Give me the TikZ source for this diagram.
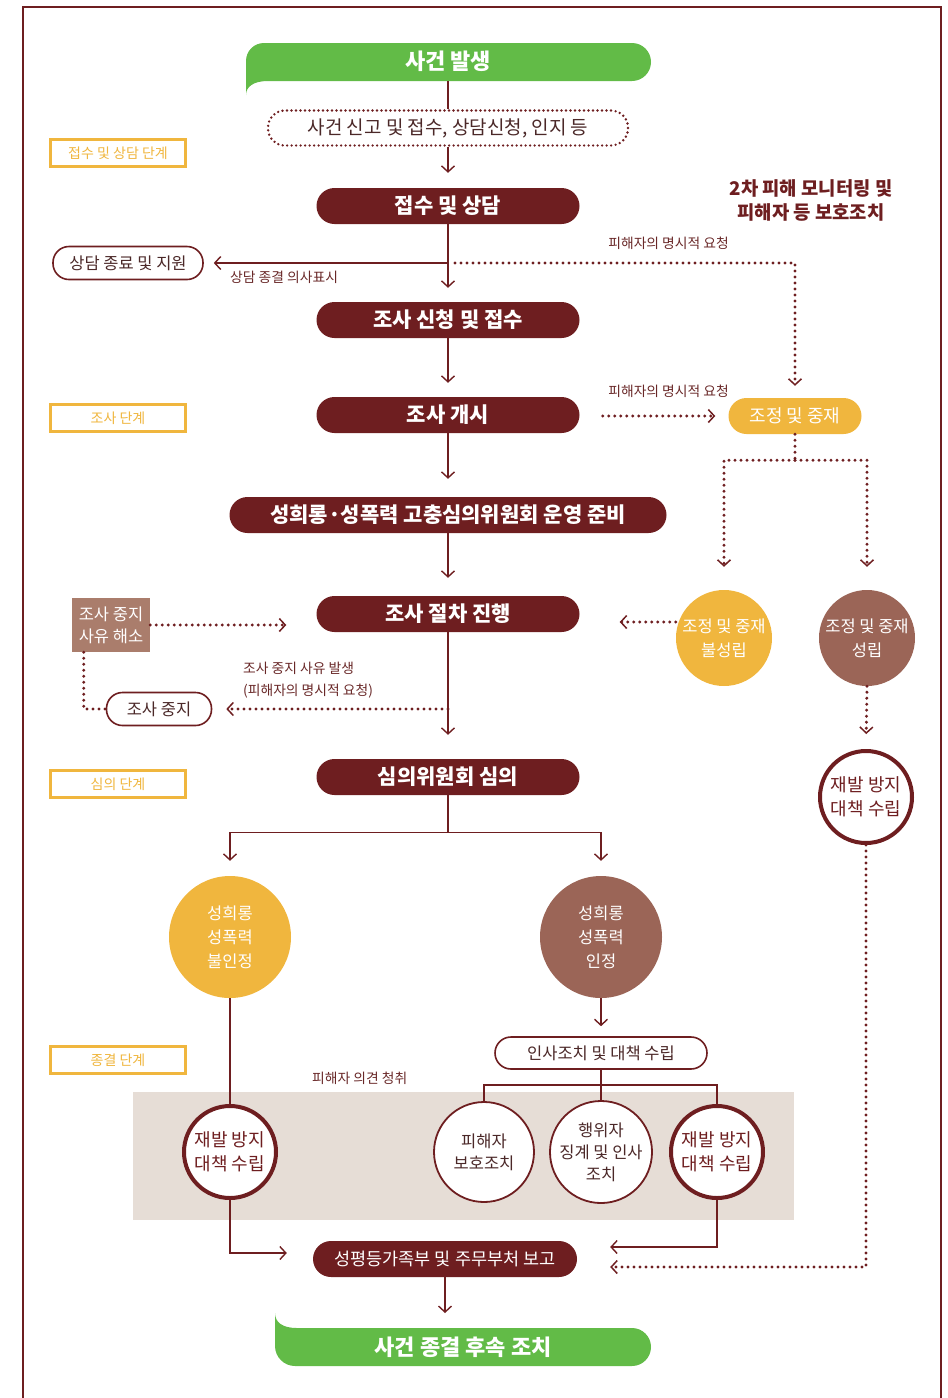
\documentclass[tikz,border=0pt]{standalone}
\usepackage{fontspec}
\setmainfont{Noto Sans CJK KR}
\usetikzlibrary{arrows.meta,calc}
\definecolor{drk}{RGB}{110,30,32}
\definecolor{grn}{RGB}{98,187,71}
\definecolor{org}{RGB}{240,182,62}
\definecolor{brn}{RGB}{155,101,87}
\definecolor{lbrn}{RGB}{170,125,108}
\definecolor{band}{RGB}{230,221,214}
\definecolor{txt}{RGB}{75,40,40}
\definecolor{lbl}{RGB}{105,40,40}
\begin{document}
\begin{tikzpicture}[x=1pt,y=-1pt,
  pill/.style={fill=drk, text=white, rounded corners=18pt, minimum height=36pt, minimum width=263pt, inner sep=0pt, font=\fontsize{21}{24}\selectfont\bfseries},
  opill/.style={draw=drk, line width=1.6pt, fill=white, text=txt, rounded corners=16pt, minimum height=33pt, inner sep=0pt, font=\fontsize{16.5}{20}\selectfont},
  stage/.style={draw=org, line width=2.5pt, fill=white, text=org, minimum width=135pt, minimum height=27pt, inner sep=0pt, font=\fontsize{14}{16}\selectfont},
  small/.style={text=lbl, inner sep=0pt, font=\fontsize{13.8}{16}\selectfont},
  gtext/.style={text=white, inner sep=0pt, font=\fontsize{22}{26}\selectfont\bfseries},
  fcirc/.style={circle, inner sep=0pt, text=white, align=center},
  rcirc/.style={circle, draw=drk, line width=4pt, fill=white, text=drk, inner sep=0pt, minimum size=92pt, align=center, font=\fontsize{18}{24}\selectfont},
  tcirc/.style={circle, draw=drk, line width=1.8pt, fill=white, text=txt, inner sep=0pt, minimum size=100pt, align=center, font=\fontsize{16.5}{22}\selectfont},
  ln/.style={draw=drk, line width=1.4pt},
  arr/.style={ln, -{Straight Barb[length=6pt,width=13pt,line width=1.4pt]}},
  dotl/.style={draw=drk, line width=3.3pt, line cap=round, dash pattern=on 0pt off 6pt},
  dotarr/.style={dotl, -{Straight Barb[length=6pt,width=13pt,line width=1.5pt]}}
]
\useasboundingbox (0,0) rectangle (948,1398);
\fill[band] (133,1092) rectangle (794,1220);
\draw[drk,line width=2pt] (23,1398) -- (23,7) -- (941,7) -- (941,1398);

% top green banner
\fill[grn] (246,95) .. controls (246,87) and (253,81) .. (268,81) -- (632,81)
  .. controls (642.5,81) and (651,72.5) .. (651,62) .. controls (651,51.5) and (642.5,43) .. (632,43)
  -- (264,43) .. controls (254,43) and (246,51) .. (246,61) -- cycle;
\node[gtext] (evstart) at (448,61) {사건 발생};
\coordinate (startb) at (448,81);

% bottom green banner
\fill[grn] (275,1313) .. controls (275,1322) and (282,1328) .. (297,1328) -- (632,1328)
  .. controls (642.5,1328) and (651,1336.5) .. (651,1347) .. controls (651,1357.5) and (642.5,1366) .. (632,1366)
  -- (295,1366) .. controls (284,1366) and (275,1357) .. (275,1346) -- cycle;
\node[gtext] (evend) at (463,1347) {사건 종결 후속 조치};
\coordinate (endtop) at (445,1328);

% stage labels
\node[stage] (s1) at (118,153) {접수 및 상담 단계};
\node[stage] (s2) at (118,418) {조사 단계};
\node[stage] (s3) at (118,784) {심의 단계};
\node[stage] (s4) at (118,1060) {종결 단계};

\node[text=drk, align=center, inner sep=0pt, font=\fontsize{18.8}{24}\selectfont\bfseries] (mon) at (811,200) {2차 피해 모니터링 및\\피해자 등 보호조치};

% main nodes
\node[draw=drk, line width=2.6pt, line cap=round, dash pattern=on 0pt off 4.5pt, rounded corners=17pt, minimum width=360pt, minimum height=35pt, inner sep=0pt, text=txt, font=\fontsize{19}{22}\selectfont] (r0) at (448,128) {사건 신고 및 접수, 상담신청, 인지 등};
\node[pill] (n1) at (448,206) {접수 및 상담};
\node[opill, minimum width=150pt] (endc) at (128,263) {상담 종료 및 지원};
\node[pill] (n2) at (448,320) {조사 신청 및 접수};
\node[pill] (n3) at (448,415) {조사 개시};
\node[fill=org, text=white, rounded corners=18pt, minimum height=36pt, minimum width=133pt, inner sep=0pt, font=\fontsize{18}{22}\selectfont] (med) at (795,416) {조정 및 중재};
\node[pill, minimum width=437pt] (n4) at (448,515) {성희롱·성폭력 고충심의위원회 운영 준비};
\node[pill] (n5) at (448,614) {조사 절차 진행};
\node[fcirc, fill=org, minimum size=96pt, font=\fontsize{16.5}{24}\selectfont] (mf) at (724,638) {조정 및 중재\\불성립};
\node[fcirc, fill=brn, minimum size=96pt, font=\fontsize{16.5}{24}\selectfont] (ms) at (867,638) {조정 및 중재\\성립};
\node[rcirc] (rp1) at (866,797) {재발 방지\\대책 수립};
\node[fill=lbrn, text=white, minimum width=78pt, minimum height=54pt, inner sep=0pt, align=center, font=\fontsize{16.5}{22}\selectfont] (res) at (111,625) {조사 중지\\사유 해소};
\node[opill, minimum width=105pt] (stop) at (159,709) {조사 중지};
\node[pill] (n6) at (448,777) {심의위원회 심의};
\node[fcirc, fill=org, minimum size=122pt, font=\fontsize{16.5}{24}\selectfont] (no) at (230,937) {성희롱\\성폭력\\불인정};
\node[fcirc, fill=brn, minimum size=122pt, font=\fontsize{16.5}{24}\selectfont] (yes) at (601,937) {성희롱\\성폭력\\인정};
\node[opill, minimum width=212pt, minimum height=32pt] (hr) at (601,1053) {인사조치 및 대책 수립};
\node[rcirc] (rp2) at (230,1152) {재발 방지\\대책 수립};
\node[tcirc] (vp) at (484,1152) {피해자\\보호조치};
\node[tcirc] (act) at (601,1152) {행위자\\징계 및 인사\\조치};
\node[rcirc] (rp3) at (717,1152) {재발 방지\\대책 수립};
\node[fill=drk, text=white, rounded corners=18pt, minimum height=36pt, minimum width=264pt, inner sep=0pt, font=\fontsize{17.5}{20}\selectfont] (rep) at (445,1259) {성평등가족부 및 주무부처 보고};

% small labels
\node[small, anchor=east] (l1) at (729,243) {피해자의 명시적 요청};
\node[small, anchor=west] (l2) at (230,277) {상담 종결 의사표시};
\node[small, anchor=east] (l3) at (729,391) {피해자의 명시적 요청};
\node[small, anchor=west] (l4) at (243,668) {조사 중지 사유 발생};
\node[small, anchor=west] (l5) at (243,691) {(피해자의 명시적 요청)};
\node[small, anchor=west] (l6) at (312,1078) {피해자 의견 청취};

% connectors
\draw[ln] (startb) -- (r0.north);
\draw[arr, shorten >=15pt] (r0.south) -- (n1.north);
\draw[arr, shorten >=14pt] (n1.south) -- (n2.north);
\coordinate (b1) at (n1.south |- endc.east);
\draw[arr, shorten >=10pt] (b1) -- (endc.east);
\draw[dotarr, shorten >=12pt] ($(b1)+(7,0)$) -| (med.north);
\draw[arr, shorten >=14pt] (n2.south) -- (n3.north);
\draw[dotarr, shorten >=13pt] ($(n3.east)+(23,1)$) -- (med.west |- {$(n3.east)+(23,1)$});
\draw[arr, shorten >=18pt] (n3.south) -- (n4.north);
\draw[arr, shorten >=18pt] (n4.south) -- (n5.north);
\draw[dotl] (med.south) -- ++(0,26) coordinate (msplit);
\draw[dotarr, shorten >=23pt] (msplit) -| (mf.north);
\draw[dotarr, shorten >=23pt] (msplit) -| (ms.north);
\draw[dotarr, shorten >=40pt] ($(mf.west)+(0,-16)$) -- (n5.east |- {$(mf.west)+(0,-16)$});
\draw[dotarr, shorten >=15pt] (ms.south) -- (rp1.north);
\draw[dotarr, shorten >=33pt] (rp1.south) |- ($(rep.east)+(0,8)$);
\draw[dotarr, shorten >=30pt] (res.east) -- (n5.west |- res.east);
\draw[dotl] ($(res.south west)+(12,0)$) |- (stop.west);
\draw[arr, shorten >=24pt] (n5.south) -- (n6.north);
\draw[dotarr, shorten >=14pt] (n5.south |- stop.east) -- (stop.east);
\draw[ln] (n6.south) -- ++(0,37) coordinate (dsplit);
\draw[arr, shorten >=15pt] (dsplit) -| (no.north);
\draw[arr, shorten >=15pt] (dsplit) -| (yes.north);
\draw[arr, shorten >=10pt] (yes.south) -- (hr.north);
\draw[ln] (hr.south) -- ++(0,15) coordinate (hsplit);
\draw[ln] (hsplit) -| (vp.north);
\draw[ln] (hsplit) -- (act.north);
\draw[ln] (hsplit) -| (rp3.north);
\draw[ln] (no.south) -- (rp2.north);
\draw[arr, shorten >=26pt] (rp2.south) |- ($(rep.west)+(0,-6)$);
\draw[arr, shorten >=33pt] (rp3.south) |- ($(rep.east)+(0,-12)$);
\draw[arr, shorten >=15pt] (rep.south) -- (endtop);
\end{tikzpicture}
\end{document}
